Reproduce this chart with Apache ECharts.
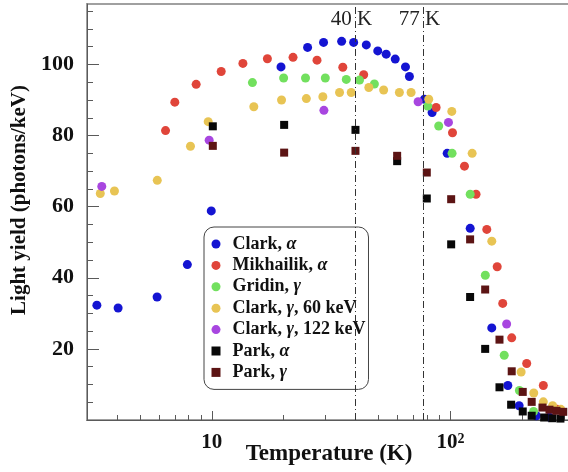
<!DOCTYPE html>
<html><head><meta charset="utf-8">
<script src="https://cdn.jsdelivr.net/npm/echarts@6/dist/echarts.min.js"></script>
<style>html,body{margin:0;padding:0;background:#fff}#c{width:568px;height:472px}</style>
</head><body><div id="c"></div>
<script>
// ---- data (temperature K, light yield photons/keV) ----
const clarkAlpha = [[3.3,32.3],[4.05,31.5],[5.9,34.6],[7.9,43.7],[9.95,58.8],[19.5,99.3],[25.2,104.8],[29.4,106.2],[35,106.5],[39.3,106.2],[44.4,105.5],[49.6,103.8],[53.8,102.9],[58.7,101.5],[64.8,99.3],[67.3,96.6],[77.8,90.2],[83.8,86.5],[96.9,75.0],[121,53.9],[149,25.9],[174,9.7],[194,4.0],[229,1.2],[260,0.8]];
const mikhailikAlpha = [[6.4,81.4],[7.0,89.4],[8.6,94.4],[10.95,98.0],[13.5,100.3],[17.1,101.6],[21.9,102.0],[27.6,101.2],[35.4,99.2],[43.3,97.1],[87.1,87.9],[102,80.8],[114.5,71.4],[128,63.5],[142,53.6],[157,43.1],[165.6,32.8],[180.6,23.1],[208.7,15.9],[245,9.7],[280,3.0]];
const gridinGamma = [[14.8,94.9],[20.0,96.2],[24.7,96.2],[29.9,96.2],[36.6,95.8],[41.6,95.6],[48.0,94.5],[80.3,88.3],[89.3,82.7],[101.6,75.0],[121,63.5],[140,40.7],[168,18.2],[194.5,8.3],[223,2.4]];
const clarkGamma60 = [[3.41,63.7],[3.91,64.4],[5.91,67.4],[8.14,77.0],[9.66,83.9],[15.0,88.1],[19.6,90.0],[24.9,90.4],[29.2,90.9],[34.3,92.1],[38.4,92.1],[45.5,93.5],[52.5,92.8],[61.1,92.1],[68.4,92.1],[81.1,90.2],[101.3,86.8],[123.3,75.0],[149,50.3],[197.8,13.5],[223.4,7.6],[245,5.1],[268,4.0],[290,3.0]];
const clarkGamma122 = [[3.46,65.7],[9.75,78.7],[29.5,87.1],[73.2,89.5],[98.1,83.7],[172,27.0]];
const parkAlpha = [[10.1,82.6],[20.1,83.0],[40.0,81.6],[59.8,72.8],[79.6,62.3],[100.7,49.4],[120.9,34.6],[139.8,20.0],[160.5,9.2],[179.6,4.3],[200.9,2.4],[219,1.2],[247,0.7],[267,0.5],[289,0.4]];
const parkGamma = [[10.1,77.1],[20.1,75.2],[40.0,75.7],[59.8,74.3],[79.6,69.6],[100.7,62.1],[120.9,50.8],[139.8,36.7],[160.5,22.6],[180.6,13.7],[200.9,7.9],[219,5.1],[243,3.5],[260,2.9],[278,2.6],[297,2.3]];
const seriesNames = ['Clark, α','Mikhailik, α','Gridin, γ','Clark, γ, 60 keV','Clark, γ, 122 keV','Park, α','Park, γ'];
const seriesData = [clarkAlpha, mikhailikAlpha, gridinGamma, clarkGamma60, clarkGamma122, parkAlpha, parkGamma];
const seriesColors = ['#1414d2','#e0453a','#72e05e','#e8c454','#a846e0','#080808','#5c1414'];
const seriesSymbols = ['circle','circle','circle','circle','circle','rect','rect'];
const refLines = [40, 77];
const refLabels = ['40 K', '77 K'];
const xMajorTicks = [10, 100];
const xMinorTicks = [3,4,5,6,7,8,9,20,30,40,50,60,70,80,90,200,300];
const yMajorTicks = [20, 40, 60, 80, 100];
const yMinorTicks = [5,10,15,25,30,35,45,50,55,65,70,75,85,90,95,105,110,115];

const FONT = 'Liberation Serif';
const chart = echarts.init(document.getElementById('c'), null, {renderer:'canvas'});
const series = seriesData.map((d, i) => ({
  name: seriesNames[i], type: 'scatter', data: d,
  symbol: seriesSymbols[i], symbolSize: seriesSymbols[i] === 'rect' ? 8 : 9,
  itemStyle: {color: seriesColors[i], opacity: 1},
  xAxisIndex: 0, yAxisIndex: 0
}));
series[0].markLine = {
  silent: true, symbol: ['none','none'], animation: false,
  lineStyle: {color: '#333', width: 1, type: [7,3,1,3]},
  label: {show: false},
  data: refLines.map(v => ({xAxis: v}))
};
series[0].markPoint = {
  silent: true, animation: false, symbol: 'circle', symbolSize: 0,
  label: {show: true, position: 'inside', formatter: '{b}', offset: [-4, 0],
          color: '#222', fontFamily: FONT, fontSize: 21},
  data: refLines.map((v, i) => ({name: refLabels[i], coord: [v, 112.6]}))
};

const axisColor = '#5a5a5a';
chart.setOption({
  animation: false,
  backgroundColor: '#fff',
  grid: {left: 87, right: -3, top: 4, bottom: 52, show: true, borderColor: '#a0a0a0', borderWidth: 2,
         containLabel: false, outerBoundsMode: 'none'},
  xAxis: [{
    type: 'log', logBase: 10, min: 3, max: 320, position: 'bottom',
    axisLine: {show: true, lineStyle: {color: axisColor, width: 1}},
    axisTick: {show: true, inside: true, length: 9, customValues: xMajorTicks, lineStyle: {color: axisColor}},
    axisLabel: {customValues: xMajorTicks, margin: 12, color: '#111',
      formatter: v => v === 10 ? '{b|10}' : '{b|10}{s|2}',
      rich: {b: {fontFamily: FONT, fontWeight: 'bold', fontSize: 21, color: '#111', lineHeight: 22},
             s: {fontFamily: FONT, fontWeight: 'bold', fontSize: 14, color: '#111', verticalAlign: 'top', lineHeight: 22}}},
    splitLine: {show: false}, minorTick: {show: false},
    name: 'Temperature (K)', nameLocation: 'middle', nameGap: 23, nameMoveOverlap: false,
    nameTextStyle: {fontFamily: FONT, fontWeight: 'bold', fontSize: 23, color: '#111'}
  }, {
    type: 'log', logBase: 10, min: 3, max: 320, position: 'bottom',
    axisLine: {show: false},
    axisTick: {show: true, inside: true, length: 5, customValues: xMinorTicks, lineStyle: {color: axisColor}},
    axisLabel: {show: false}, splitLine: {show: false}
  }],
  yAxis: [{
    type: 'value', min: 0, max: 117, position: 'left',
    axisLine: {show: true, lineStyle: {color: axisColor, width: 1}},
    axisTick: {show: true, inside: true, length: 12, customValues: yMajorTicks, lineStyle: {color: axisColor}},
    axisLabel: {customValues: yMajorTicks, margin: 13, fontFamily: FONT, fontWeight: 'bold', fontSize: 22, color: '#111'},
    splitLine: {show: false},
    name: 'Light yield (photons/keV)', nameLocation: 'middle', nameGap: 57, nameRotate: 90, nameMoveOverlap: false,
    nameTextStyle: {fontFamily: FONT, fontWeight: 'bold', fontSize: 21, color: '#111', padding: [0, 0, 0, 24]}
  }, {
    type: 'value', min: 0, max: 117, position: 'left',
    axisLine: {show: false},
    axisTick: {show: true, inside: true, length: 6, customValues: yMinorTicks, lineStyle: {color: axisColor}},
    axisLabel: {show: false}, splitLine: {show: false}
  }],
  legend: {
    orient: 'vertical', left: 204, top: 227, selectedMode: false,
    itemWidth: 9, itemHeight: 9, itemGap: 3.4, padding: [8, 3, 8, 7.5],
    backgroundColor: '#fff', borderColor: '#444', borderWidth: 1, borderRadius: 10,
    textStyle: {fontFamily: FONT, fontWeight: 'bold', fontSize: 18, color: '#111', lineHeight: 18, padding: [0, 0, 0, 7],
      rich: {g: {fontFamily: FONT, fontStyle: 'italic', fontWeight: 'bold', fontSize: 18, color: '#111', lineHeight: 18}}},
    formatter: n => n.replace(/([αγ])/g, '{g|$1}'),
    data: seriesNames
  },
  series: series
});
</script></body></html>
